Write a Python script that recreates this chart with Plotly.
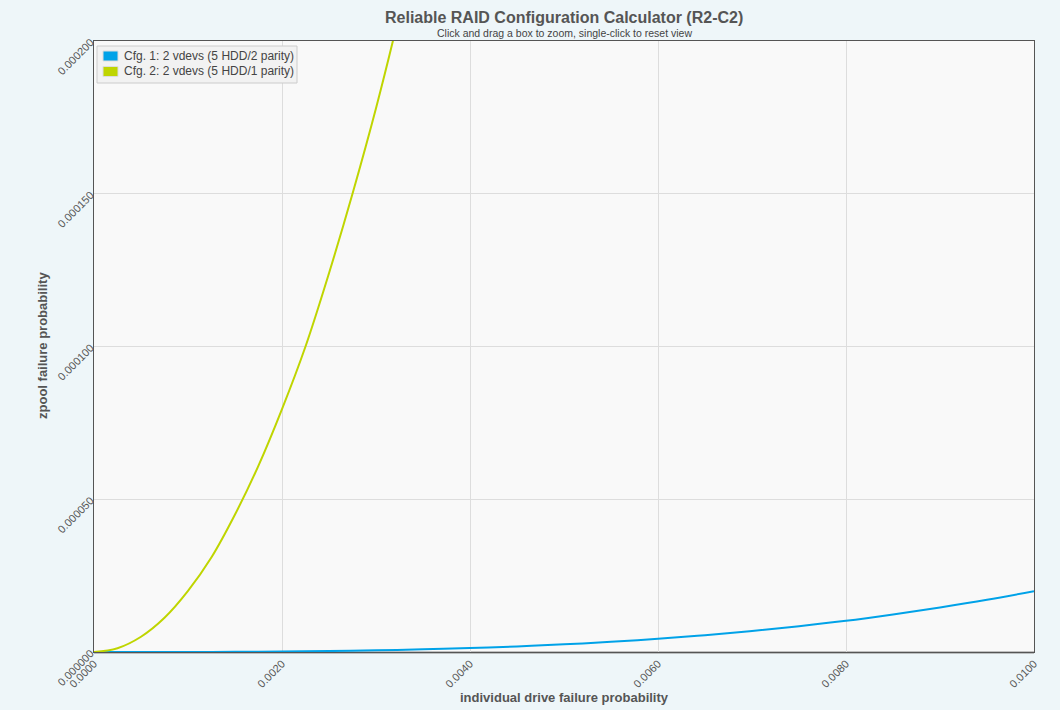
import plotly.graph_objects as go

# Values
x_cfg1 = [0.0, 0.0005, 0.001, 0.0015, 0.002, 0.0025, 0.003, 0.0035, 0.004, 0.0045,
          0.005, 0.0055, 0.006, 0.0065, 0.007, 0.0075, 0.008, 0.0085, 0.009, 0.0095, 0.010]
y_cfg1 = [0.0, 0.0000000025, 0.00000002, 0.0000000675, 0.00000016, 0.00000031, 0.00000054,
          0.00000086, 0.00000128, 0.00000182, 0.0000025, 0.00000333, 0.00000432, 0.00000549,
          0.00000686, 0.00000844, 0.0000102, 0.0000123, 0.0000146, 0.0000171, 0.0000199]

x_cfg2 = [0.0, 0.00025, 0.0005, 0.00075, 0.001, 0.00125, 0.0015, 0.00175, 0.002,
          0.00225, 0.0025, 0.00275, 0.003, 0.00325, 0.0035]
y_cfg2 = [0.0, 0.00000125, 0.000005, 0.0000112, 0.00002, 0.000031, 0.000045, 0.000061,
          0.0000795, 0.0001, 0.000124, 0.00015, 0.000178, 0.000209, 0.000243]

names = ["Cfg. 1: 2 vdevs (5 HDD/2 parity)", "Cfg. 2: 2 vdevs (5 HDD/1 parity)"]
colors = ["#00a2e8", "#bfd500"]

FONT = "Liberation Sans, Arial, sans-serif"
TXT = "#555555"

W, H = 1060, 710
ML, MR, MT, MB = 94, 26, 41, 58
PW, PH = W - ML - MR, H - MT - MB


def px(x):
    return (x - ML) / PW


def py(y):
    return (H - MB - y) / PH


fig = go.Figure()
fig.add_trace(go.Scatter(x=x_cfg1, y=y_cfg1, mode="lines", name=names[0],
                         line=dict(color=colors[0], width=2, shape="spline"), showlegend=False,
                         cliponaxis=False))
fig.add_trace(go.Scatter(x=x_cfg2, y=y_cfg2, mode="lines", name=names[1],
                         line=dict(color=colors[1], width=2, shape="spline"), showlegend=False))

shapes = [
    dict(type="rect", xref="paper", yref="paper", x0=px(97), x1=px(297), y0=py(83), y1=py(46),
         fillcolor="#f2f2f2", line=dict(color="#cccccc", width=1), layer="above"),
    dict(type="line", xref="paper", yref="paper", x0=0, x1=1, y0=py(652.5), y1=py(652.5),
         line=dict(color="#888888", width=2), layer="below"),
]
annotations = [
    dict(text="<b>Reliable RAID Configuration Calculator (R2-C2)</b>", x=0.5, y=py(17),
         xref="paper", yref="paper", xanchor="center", yanchor="middle", showarrow=False,
         font=dict(size=16, color=TXT)),
    dict(text="Click and drag a box to zoom, single-click to reset view", x=0.5, y=py(33),
         xref="paper", yref="paper", xanchor="center", yanchor="middle", showarrow=False,
         font=dict(size=10.5, color="#444444")),
    dict(text="<b>individual drive failure probability</b>", x=px(564), y=py(697),
         xref="paper", yref="paper", xanchor="center", yanchor="middle", showarrow=False,
         font=dict(size=13, color=TXT)),
    dict(text="<b>zpool failure probability</b>", x=px(42), y=py(346), textangle=-90,
         xref="paper", yref="paper", xanchor="center", yanchor="middle", showarrow=False,
         font=dict(size=13, color=TXT)),
]
for i, (n, c) in enumerate(zip(names, colors)):
    top = 51 + i * 15.5
    shapes.append(dict(type="rect", xref="paper", yref="paper", x0=px(103), x1=px(118),
                       y0=py(top + 10), y1=py(top), fillcolor=c,
                       line=dict(color="#dddddd", width=1), layer="above"))
    annotations.append(dict(text=n, x=px(122), y=py(top + 5), xref="paper", yref="paper",
                            xanchor="left", yanchor="middle", showarrow=False,
                            font=dict(size=12, color="#444444")))

fig.update_layout(
    width=W, height=H,
    margin=dict(l=ML, r=MR, t=MT, b=MB, autoexpand=False),
    paper_bgcolor="#eef6f9",
    plot_bgcolor="#f9f9f9",
    font=dict(family=FONT, color=TXT, size=11),
    showlegend=False,
    xaxis=dict(range=[0, 0.01], dtick=0.002, tick0=0, tickformat=".4f", tickangle=-45,
               showgrid=True, gridcolor="#dddddd", gridwidth=1, zeroline=False,
               showline=True, linecolor="#555555", linewidth=1, mirror=True, automargin=False,
               ticks="", tickfont=dict(size=11, color=TXT), layer="below traces"),
    yaxis=dict(range=[0, 0.0002], dtick=0.00005, tick0=0, tickformat=".6f", tickangle=-45,
               showgrid=True, gridcolor="#dddddd", gridwidth=1, zeroline=False,
               showline=True, linecolor="#555555", linewidth=1, mirror=True, automargin=False,
               ticks="", tickfont=dict(size=11, color=TXT)),
    shapes=shapes,
    annotations=annotations,
)

fig.write_html("out.html", config={"displayModeBar": False},
               post_script="document.body.style.margin='0';document.body.style.background='#eef6f9';"
                           "document.body.style.overflow='hidden';")
